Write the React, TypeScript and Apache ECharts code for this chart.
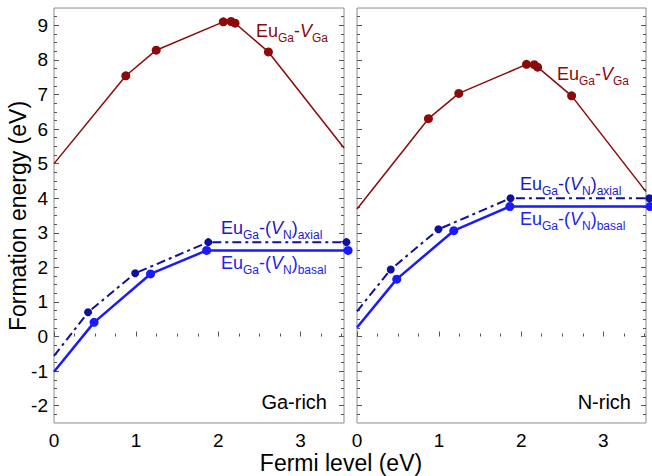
import React, { useEffect, useRef } from "react";
import * as echarts from "echarts";

// Axis extents
const X_MAX_GA = 3.53;
const X_MAX_N = 3.52;
const Y_MIN = -2.5;
const Y_MAX = 9.5;

// Tick values
const xMajor = [0, 1, 2, 3];
const xMinor = [0.25, 0.5, 0.75, 1.25, 1.5, 1.75, 2.25, 2.5, 2.75, 3.25, 3.5];
const yMajor = [-2, -1, 0, 1, 2, 3, 4, 5, 6, 7, 8, 9];
const yMinor = [
  -2.25, -1.75, -1.5, -1.25, -0.75, -0.5, -0.25, 0.25, 0.5, 0.75, 1.25, 1.5,
  1.75, 2.25, 2.5, 2.75, 3.25, 3.5, 3.75, 4.25, 4.5, 4.75, 5.25, 5.5, 5.75,
  6.25, 6.5, 6.75, 7.25, 7.5, 7.75, 8.25, 8.5, 8.75, 9.25,
];

// Ga-rich panel
const gaVGaX = [0, 0.874, 1.244, 2.061, 2.155, 2.204, 2.61, 3.53];
const gaVGaY = [5.0, 7.54, 8.28, 9.1, 9.11, 9.06, 8.23, 5.45];
const gaAxialX = [0, 0.415, 0.988, 1.878, 3.56];
const gaAxialY = [-0.56, 0.7, 1.83, 2.73, 2.73];
const gaBasalX = [0, 0.488, 1.175, 1.858, 3.58];
const gaBasalY = [-1.02, 0.41, 1.81, 2.49, 2.49];

// N-rich panel
const nVGaX = [0, 0.87, 1.24, 2.065, 2.159, 2.2, 2.614, 3.52];
const nVGaY = [3.69, 6.3, 7.03, 7.87, 7.86, 7.79, 6.96, 4.19];
const nAxialX = [0, 0.411, 0.992, 1.87, 3.56];
const nAxialY = [0.73, 1.94, 3.1, 4.0, 4.0];
const nBasalX = [0, 0.484, 1.179, 1.862, 3.57];
const nBasalY = [0.26, 1.66, 3.06, 3.76, 3.76];

const FONT = "'Liberation Sans', Arial, Helvetica, sans-serif";
const RED = "#8b0a0a";
const AXIAL = "#10109e";
const BASAL = "#1a1aff";
const AXIAL_TXT = "#1a1ac4";
const BASAL_TXT = "#2222f0";
const FRAME = "#8c8c8c";
const TICK = "#555555";

function pts(xs: number[], ys: number[], markLast: boolean) {
  return xs.map((x, i) => ({
    value: [x, ys[i]],
    symbol: i === 0 || (i === xs.length - 1 && !markLast) ? "none" : "circle",
  }));
}

function richStyle(color: string) {
  const n = { fontSize: 18, lineHeight: 22, verticalAlign: "top", fill: color, fontFamily: FONT };
  return {
    n,
    i: { ...n, fontStyle: "italic" },
    s: { fontSize: 12, lineHeight: 12, verticalAlign: "bottom", fill: color, fontFamily: FONT },
  };
}

function label(x: number, y: number, text: string, color: string) {
  return {
    type: "text",
    x,
    y,
    style: {
      text,
      rich: richStyle(color),
      fill: color,
      align: "left",
      verticalAlign: "top",
      textAlign: "left",
      textVerticalAlign: "top",
      fontFamily: FONT,
      fontSize: 18,
    },
  };
}

const VGA_TXT = "{n|Eu}{s|Ga}{n|-}{i|V}{s|Ga}";
const AXIAL_LBL = "{n|Eu}{s|Ga}{n|-(}{i|V}{s|N}{n|)}{s|axial}";
const BASAL_LBL = "{n|Eu}{s|Ga}{n|-(}{i|V}{s|N}{n|)}{s|basal}";

function xAxes(gridIndex: number, max: number) {
  return [
    {
      type: "value",
      gridIndex,
      min: 0,
      max,
      position: "bottom",
      axisLine: { show: false },
      splitLine: { show: false },
      axisTick: { show: true, inside: true, length: 5, customValues: xMajor, lineStyle: { color: TICK } },
      axisLabel: { show: true, customValues: xMajor, fontSize: 19, color: "#000", fontFamily: FONT, margin: 8 },
    },
    {
      type: "value",
      gridIndex,
      min: 0,
      max,
      position: "bottom",
      axisLine: { show: false },
      splitLine: { show: false },
      axisTick: { show: true, inside: true, length: 3, customValues: xMinor, lineStyle: { color: TICK } },
      axisLabel: { show: false },
    },
  ];
}

function yAxis(gridIndex: number, position: string, major: boolean, labels: boolean) {
  return {
    type: "value",
    gridIndex,
    min: Y_MIN,
    max: Y_MAX,
    position,
    axisLine: { show: false },
    splitLine: { show: false },
    axisTick: {
      show: true,
      inside: true,
      length: major ? 5 : 3,
      customValues: major ? yMajor : yMinor,
      lineStyle: { color: TICK },
    },
    axisLabel: labels
      ? { show: true, customValues: yMajor, fontSize: 19, color: "#000", fontFamily: FONT, margin: 6 }
      : { show: false },
  };
}

function lineSeries(
  name: string,
  xi: number,
  yi: number,
  data: any[],
  color: string,
  width: number,
  type: any,
  size: number
) {
  return {
    name,
    type: "line",
    xAxisIndex: xi,
    yAxisIndex: yi,
    data,
    clip: false,
    symbolSize: size,
    itemStyle: { color },
    lineStyle: { color, width, type },
    z: 3,
  };
}

export default function App() {
  const ref = useRef<HTMLDivElement>(null);
  useEffect(() => {
    if (!ref.current) return;
    const chart = echarts.init(ref.current, null, { renderer: "svg" });
    const dashDot = [9, 4, 3, 4];
    chart.setOption({
      animation: false,
      backgroundColor: "#fff",
      grid: [
        { left: 54, top: 8, width: 290, height: 415, show: true, borderColor: FRAME, borderWidth: 1, backgroundColor: "transparent" },
        { left: 357, top: 8, width: 289, height: 415, show: true, borderColor: FRAME, borderWidth: 1, backgroundColor: "transparent" },
      ],
      xAxis: [...xAxes(0, X_MAX_GA), ...xAxes(1, X_MAX_N)],
      yAxis: [
        yAxis(0, "left", true, true),
        yAxis(0, "left", false, false),
        yAxis(0, "right", true, false),
        yAxis(0, "right", false, false),
        yAxis(1, "left", true, false),
        yAxis(1, "left", false, false),
        yAxis(1, "right", true, false),
        yAxis(1, "right", false, false),
      ],
      series: [
        lineSeries("Ga VGa", 0, 0, pts(gaVGaX, gaVGaY, false), RED, 1.5, "solid", 9),
        lineSeries("Ga axial", 0, 0, pts(gaAxialX, gaAxialY, true), AXIAL, 2, dashDot, 8),
        lineSeries("Ga basal", 0, 0, pts(gaBasalX, gaBasalY, true), BASAL, 2.5, "solid", 9),
        lineSeries("N VGa", 2, 4, pts(nVGaX, nVGaY, false), RED, 1.5, "solid", 9),
        lineSeries("N axial", 2, 4, pts(nAxialX, nAxialY, true), AXIAL, 2, dashDot, 8),
        lineSeries("N basal", 2, 4, pts(nBasalX, nBasalY, true), BASAL, 2.5, "solid", 9),
      ],
      graphic: [
        label(256, 22, VGA_TXT, RED),
        label(557, 65, VGA_TXT, RED),
        label(221, 219, AXIAL_LBL, AXIAL_TXT),
        label(221, 254, BASAL_LBL, BASAL_TXT),
        label(520, 175, AXIAL_LBL, AXIAL_TXT),
        label(520, 210, BASAL_LBL, BASAL_TXT),
        {
          type: "text",
          x: 327,
          y: 392,
          style: { text: "Ga-rich", fill: "#000", fontSize: 20, fontFamily: FONT, align: "right", verticalAlign: "top", textAlign: "right", textVerticalAlign: "top" },
        },
        {
          type: "text",
          x: 631,
          y: 392,
          style: { text: "N-rich", fill: "#000", fontSize: 20, fontFamily: FONT, align: "right", verticalAlign: "top", textAlign: "right", textVerticalAlign: "top" },
        },
        {
          type: "text",
          x: 341,
          y: 463,
          style: { text: "Fermi level (eV)", fill: "#000", fontSize: 23, fontFamily: FONT, align: "center", verticalAlign: "middle", textAlign: "center", textVerticalAlign: "middle" },
        },
        {
          type: "text",
          x: 18,
          y: 216,
          rotation: Math.PI / 2,
          style: { text: "Formation energy (eV)", fill: "#000", fontSize: 23, fontFamily: FONT, align: "center", verticalAlign: "middle", textAlign: "center", textVerticalAlign: "middle" },
        },
      ],
    });
    return () => chart.dispose();
  }, []);
  return (
    <div
      ref={ref}
      style={{ position: "fixed", left: 0, top: 0, width: 652, height: 476 }}
    />
  );
}
